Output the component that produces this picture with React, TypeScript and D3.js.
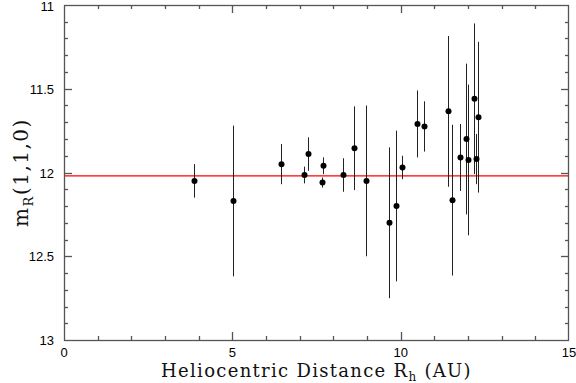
import React, { useEffect, useRef } from "react";
import * as d3 from "d3";

// heliocentric distance (AU), magnitude, error
const dist = [3.87, 5.03, 6.44, 7.12, 7.25, 7.65, 7.68, 8.3, 8.62, 8.97, 9.66, 9.85, 10.03, 10.49, 10.7, 11.41, 11.51, 11.77, 11.94, 12.0, 12.17, 12.23, 12.3];
const mag = [12.05, 12.17, 11.95, 12.015, 11.89, 12.06, 11.96, 12.015, 11.855, 12.05, 12.3, 12.2, 11.97, 11.71, 11.725, 11.635, 12.165, 11.91, 11.8, 11.925, 11.56, 11.92, 11.67];
const err = [0.1, 0.45, 0.12, 0.05, 0.1, 0.03, 0.05, 0.1, 0.25, 0.45, 0.45, 0.45, 0.07, 0.2, 0.15, 0.45, 0.45, 0.2, 0.45, 0.45, 0.45, 0.15, 0.45];
const meanMag = 12.02;
const xTickLabels = [0, 5, 10, 15];
const yTickLabels = [11, 11.5, 12, 12.5, 13];

const W = 576, H = 383;
const m = { left: 64, right: 7, top: 5, bottom: 43 };

const App = () => {
  const ref = useRef<SVGSVGElement>(null);

  useEffect(() => {
    const svg = d3.select(ref.current);
    svg.selectAll("*").remove();

    const x = d3.scaleLinear().domain([0, 15]).range([m.left, W - m.right]);
    const y = d3.scaleLinear().domain([11, 13]).range([m.top, H - m.bottom]);
    const x0 = m.left, x1 = W - m.right, y0 = m.top, y1 = H - m.bottom;
    const frameColor = "#555";

    // mean line
    svg.append("line")
      .attr("x1", x0).attr("x2", x1)
      .attr("y1", y(meanMag)).attr("y2", y(meanMag))
      .attr("stroke", "#f00").attr("stroke-width", 1.4);

    // error bars
    svg.append("g").selectAll("line")
      .data(dist)
      .enter()
      .append("line")
      .attr("x1", d => Math.round(x(d)) + 0.5)
      .attr("x2", d => Math.round(x(d)) + 0.5)
      .attr("y1", (d, i) => y(mag[i] - err[i]))
      .attr("y2", (d, i) => y(mag[i] + err[i]))
      .attr("stroke", "#222").attr("stroke-width", 1);

    svg.append("g").selectAll("circle")
      .data(dist)
      .enter()
      .append("circle")
      .attr("cx", d => Math.round(x(d)) + 0.5)
      .attr("cy", (d, i) => y(mag[i]))
      .attr("r", 3)
      .attr("fill", "#000");

    // frame
    svg.append("rect")
      .attr("x", x0 + 0.5).attr("y", y0 + 0.5)
      .attr("width", x1 - x0 - 1).attr("height", y1 - y0)
      .attr("fill", "none").attr("stroke", frameColor).attr("stroke-width", 1.3);

    const ticks = svg.append("g").attr("stroke", frameColor).attr("stroke-width", 1.3);
    d3.range(1, 15).forEach(v => {
      const len = v % 5 === 0 ? 8 : 4;
      const px = Math.round(x(v)) + 0.5;
      ticks.append("line").attr("x1", px).attr("x2", px).attr("y1", y1).attr("y2", y1 - len);
      ticks.append("line").attr("x1", px).attr("x2", px).attr("y1", y0).attr("y2", y0 + len);
    });
    d3.range(1, 20).forEach(k => {
      const v = 11 + k * 0.1;
      const len = k % 5 === 0 ? 8 : 4;
      const py = Math.round(y(v)) + 0.5;
      ticks.append("line").attr("x1", x0).attr("x2", x0 + len).attr("y1", py).attr("y2", py);
      ticks.append("line").attr("x1", x1).attr("x2", x1 - len).attr("y1", py).attr("y2", py);
    });

    const tickFont = "Liberation Sans, Arial, sans-serif";
    svg.append("g").selectAll("text")
      .data(xTickLabels)
      .enter()
      .append("text")
      .attr("x", d => x(d))
      .attr("y", y1 + 17)
      .attr("text-anchor", "middle")
      .attr("font-family", tickFont).attr("font-size", 13)
      .text(d => d);

    svg.append("g").selectAll("text")
      .data(yTickLabels)
      .enter()
      .append("text")
      .attr("x", x0 - 10)
      .attr("y", d => Math.max(y(d) + 5, 11))
      .attr("text-anchor", "end")
      .attr("font-family", tickFont).attr("font-size", 13)
      .text(d => d);

    const titleFont = "DejaVu Serif, Liberation Serif, serif";
    const xt = svg.append("text")
      .attr("x", (x0 + x1) / 2).attr("y", 377)
      .attr("text-anchor", "middle")
      .attr("font-family", titleFont).attr("font-size", 18)
      .attr("letter-spacing", 1.3)
      .attr("fill", "#111");
    xt.append("tspan").text("Heliocentric Distance R");
    xt.append("tspan").attr("font-size", 12).attr("dy", 4).text("h");
    xt.append("tspan").attr("dy", -4).text(" (AU)");

    const yt = svg.append("text")
      .attr("transform", `translate(28, ${(y0 + y1) / 2}) rotate(-90)`)
      .attr("text-anchor", "middle")
      .attr("font-family", titleFont).attr("font-size", 20)
      .attr("letter-spacing", 1.5)
      .attr("fill", "#111");
    yt.append("tspan").text("m");
    yt.append("tspan").attr("font-size", 13).attr("dy", 5).text("R");
    yt.append("tspan").attr("dy", -5).text("(1,1,0)");
  }, []);

  return (
    <svg
      ref={ref}
      width={W}
      height={H}
      style={{ position: "absolute", left: 0, top: 0, background: "#fff" }}
    ></svg>
  );
};

export default App;
